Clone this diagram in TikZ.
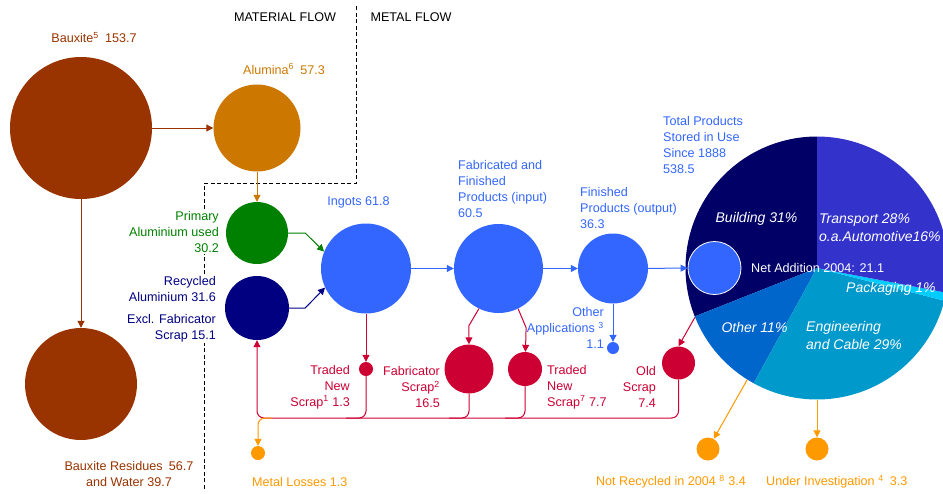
\documentclass[tikz,border=0pt]{standalone}
\usepackage{fontspec}
\setmainfont{Liberation Sans}
\usetikzlibrary{arrows.meta}

\definecolor{bauxitebrown}{HTML}{993300}
\definecolor{aluminaorange}{HTML}{CC7700}
\definecolor{primarygreen}{HTML}{008000}
\definecolor{recyclednavy}{HTML}{000080}
\definecolor{metalblue}{HTML}{3366FF}
\definecolor{scrapred}{HTML}{CC0033}
\definecolor{lossorange}{HTML}{FF9900}
\definecolor{buildingnavy}{HTML}{000066}
\definecolor{transportblue}{HTML}{3333CC}
\definecolor{packagingcyan}{HTML}{00CCFF}
\definecolor{engineeringblue}{HTML}{0099CC}
\definecolor{otherblue}{HTML}{0066CC}

\begin{document}
\begin{tikzpicture}[x=1pt, y=1pt,
        >={Triangle[length=7pt,width=7pt]},
        stock/.style={circle, inner sep=0pt, minimum size=#1},
        flow/.style={->, line width=1pt},
        lbl/.style={font=\fontsize{12.6}{16}\selectfont, inner sep=1pt},
        pielbl/.style={font=\fontsize{14}{17.5}\selectfont\itshape, text=white, inner sep=0pt}]
        \useasboundingbox (0,0) rectangle (943,-493);

        % Material / metal flow border
        \draw[line width=1pt, dash pattern=on 4pt off 2.5pt] (356,-6) -- (356,-183) -- (204,-183) -- (204,-490);
        \node[lbl] (matlbl) at (285,-17) {MATERIAL FLOW};
        \node[lbl] (metlbl) at (411,-17) {METAL FLOW};

        % Material flow
        \node[stock=142, fill=bauxitebrown] (bauxite) at (81,-128) {};
        \node[stock=87, fill=aluminaorange] (alumina) at (257,-128) {};
        \node[stock=112, fill=bauxitebrown] (residues) at (81,-384) {};
        \node[stock=62, fill=primarygreen] (primary) at (257,-233) {};
        \node[stock=64, fill=recyclednavy] (recycled) at (257,-308) {};

        % Metal flow
        \node[stock=90, fill=metalblue] (ingots) at (366,-268.5) {};
        \node[stock=89, fill=metalblue] (fabricated) at (498.5,-268.5) {};
        \node[stock=70, fill=metalblue] (finished) at (613,-268.5) {};
        \node[stock=12, fill=metalblue] (otherapps) at (613,-348) {};

        % Scrap
        \node[stock=14, fill=scrapred] (tradednew1) at (366,-369) {};
        \node[stock=49, fill=scrapred] (fabscrap) at (469,-369) {};
        \node[stock=34, fill=scrapred] (tradednew7) at (525,-369) {};
        \node[stock=33, fill=scrapred] (oldscrap) at (678.5,-363) {};

        % Losses
        \node[stock=14, fill=lossorange] (losses) at (258,-453) {};
        \node[stock=23, fill=lossorange] (notrecycled) at (708,-449) {};
        \node[stock=23, fill=lossorange] (underinv) at (817,-449) {};

        % Products in use (pie)
        \node[stock=263] (pie) at (817,-268) {};
        \fill[buildingnavy] (pie.center) -- ++(90:131.5) arc[start angle=90, end angle=201.6, radius=131.5] -- cycle;
        \fill[otherblue] (pie.center) -- ++(201.6:131.5) arc[start angle=201.6, end angle=241.2, radius=131.5] -- cycle;
        \fill[engineeringblue] (pie.center) -- ++(241.2:131.5) arc[start angle=241.2, end angle=345.6, radius=131.5] -- cycle;
        \fill[packagingcyan] (pie.center) -- ++(345.6:131.5) arc[start angle=345.6, end angle=349.2, radius=131.5] -- cycle;
        \fill[transportblue] (pie.center) -- ++(349.2:131.5) arc[start angle=349.2, end angle=450, radius=131.5] -- cycle;
        \node[stock=53, fill=metalblue, draw=white, line width=0.8pt] (netadd) at (714.5,-268) {};

        % Connectors
        \draw[flow, bauxitebrown] (bauxite) -- (alumina);
        \draw[flow, bauxitebrown] (bauxite) -- (residues);
        \draw[flow, aluminaorange] (alumina) -- (primary);
        \draw[flow, primarygreen] (primary.east) -- ++(17,0) -- (ingots.158);
        \draw[flow, recyclednavy] (recycled.east) -- ++(16,0) -- (ingots.205);
        \draw[flow, metalblue] (ingots) -- (fabricated);
        \draw[flow, metalblue] (fabricated) -- (finished);
        \draw[flow, metalblue] (finished) -- (netadd);
        \draw[flow, metalblue] (finished) -- (otherapps);
        \draw[flow, scrapred] (ingots) -- (tradednew1);
        \draw[flow, scrapred] (fabricated.244) -- ++(-10,-17) -- (fabscrap);
        \draw[flow, scrapred] (fabricated.296) -- ++(8,-19) -- (tradednew7);
        \draw[flow, scrapred] (pie.202) -- (oldscrap.north);

        % Scrap return line
        \coordinate (scrapreturn) at (0,-418);
        \draw[flow, scrapred, rounded corners=7pt] (oldscrap.south) -- (oldscrap.south |- scrapreturn) -| (recycled.south);
        \draw[scrapred, line width=1pt, rounded corners=7pt] (tradednew1.south) -- (tradednew1.south |- scrapreturn) -- ++(-20,0);
        \draw[scrapred, line width=1pt, rounded corners=7pt] (fabscrap.south) -- (fabscrap.south |- scrapreturn) -- ++(-20,0);
        \draw[scrapred, line width=1pt, rounded corners=7pt] (tradednew7.south) -- (tradednew7.south |- scrapreturn) -- ++(-20,0);
        \coordinate (lossfork) at (272,-418);
        \draw[flow, lossorange, rounded corners=7pt] (lossfork) -| (losses);
        \draw[flow, lossorange] (pie.238) -- (notrecycled);
        \draw[flow, lossorange] (pie.south) -- (underinv);

        % Labels
        \node[lbl, text=bauxitebrown] (bauxitelbl) at (94,-37.5) {Bauxite\textsuperscript{5}\enspace 153.7};
        \node[lbl, text=aluminaorange] (aluminalbl) at (284,-69) {Alumina\textsuperscript{6}\enspace 57.3};
        \node[lbl, text=primarygreen, align=right, anchor=east, fill=white] (primarylbl) at (220,-232) {Primary\\Aluminium used\\30.2};
        \node[lbl, text=recyclednavy, align=right, anchor=east, fill=white] (recycledlbl) at (217,-309.5) {Recycled\\Aluminium 31.6\\[6pt]Excl. Fabricator\\Scrap 15.1};
        \node[lbl, text=bauxitebrown, align=center] (residueslbl) at (129,-474) {Bauxite Residues\enspace 56.7\\and Water 39.7};
        \node[lbl, text=metalblue] (ingotslbl) at (358.5,-202) {Ingots 61.8};
        \node[lbl, text=metalblue, align=left, anchor=west] (fabricatedlbl) at (457,-188.5) {Fabricated and\\Finished\\Products (input)\\60.5};
        \node[lbl, text=metalblue, align=left, anchor=west] (finishedlbl) at (579,-207.5) {Finished\\Products (output)\\36.3};
        \node[lbl, text=metalblue, align=left, anchor=west] (pielbl) at (662,-145) {Total Products\\Stored in Use\\Since 1888\\538.5};
        \node[lbl, text=metalblue, align=right, anchor=east] (otherappslbl) at (605,-328) {Other\\Applications \textsuperscript{3}\\1.1};
        \node[lbl, text=scrapred, align=right, anchor=east] (tradednew1lbl) at (351,-387) {Traded\\New\\Scrap\textsuperscript{1} 1.3};
        \node[lbl, text=scrapred, align=right, anchor=east] (fabscraplbl) at (441,-387) {Fabricator\\Scrap\textsuperscript{2}\\16.5};
        \node[lbl, text=scrapred, align=left, anchor=west] (tradednew7lbl) at (546,-387) {Traded\\New\\Scrap\textsuperscript{7} 7.7};
        \node[lbl, text=scrapred, align=right, anchor=east] (oldscraplbl) at (657,-387) {Old\\Scrap\\7.4};
        \node[lbl, text=lossorange, anchor=west] (losseslbl) at (251,-482) {Metal Losses 1.3};
        \node[lbl, text=lossorange, anchor=east] (notrecycledlbl) at (747,-482) {Not Recycled in 2004 \textsuperscript{8} 3.4};
        \node[lbl, text=lossorange, anchor=west] (underinvlbl) at (765,-482) {Under Investigation \textsuperscript{4}\enspace 3.3};

        % Pie labels
        \node[pielbl] (buildinglbl) at (756.5,-219) {Building 31\%};
        \node[pielbl, align=left, anchor=west] (transportlbl) at (819,-227.5) {Transport 28\%\\o.a.Automotive16\%};
        \node[pielbl, anchor=west] (packaginglbl) at (846,-289) {Packaging 1\%};
        \node[pielbl] (otherlbl) at (754.5,-327) {Other 11\%};
        \node[pielbl, align=left, anchor=west] (engineeringlbl) at (806,-335.5) {Engineering\\and Cable 29\%};
        \node[lbl, text=white, anchor=west] (netaddlbl) at (750,-268) {Net Addition 2004: 21.1};
\end{tikzpicture}
\end{document}
